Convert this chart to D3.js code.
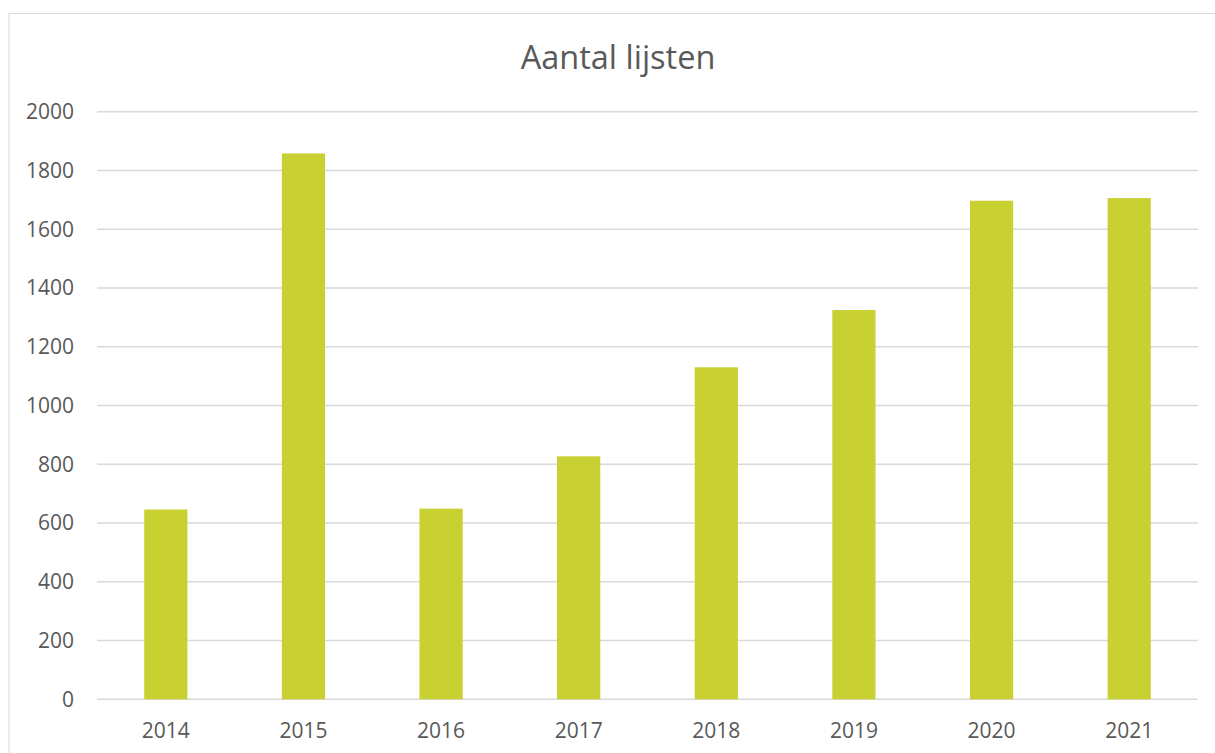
<!DOCTYPE html>
<html>
<head>
<meta charset="utf-8">
<script src="https://cdn.jsdelivr.net/npm/d3@7"></script>
<style>
  body { margin: 0; background: #fff; }
  svg { display: block; }
  text { font-family: "Open Sans", sans-serif; fill: #595959; }
</style>
</head>
<body>
<script>
// chart data
var years = ["2014", "2015", "2016", "2017", "2018", "2019", "2020", "2021"];
var lijsten = [646, 1858, 649, 827, 1130, 1325, 1697, 1706];
var yTicks = [0, 200, 400, 600, 800, 1000, 1200, 1400, 1600, 1800, 2000];
var title = "Aantal lijsten";

var W = 1215, H = 753;
var margin = { top: 111.7, right: 17, bottom: 53.7, left: 97 },
    width = W - margin.left - margin.right,
    height = H - margin.top - margin.bottom;

var svg = d3.select("body").append("svg")
    .attr("width", W)
    .attr("height", H);

// outer chart border
svg.append("rect")
    .attr("x", 9).attr("y", 13.5)
    .attr("width", W - 9 + 5).attr("height", H)
    .attr("fill", "none")
    .attr("stroke", "#d9d9d9")
    .attr("stroke-width", 1);

svg.append("text")
    .attr("x", 618)
    .attr("y", 69)
    .attr("text-anchor", "middle")
    .style("font-size", "32.5px")
    .text(title);

var g = svg.append("g")
    .attr("transform", "translate(" + margin.left + "," + margin.top + ")");

var x = d3.scaleBand().domain(years).range([0, width]).paddingInner(0.686).paddingOuter(0.343);
var y = d3.scaleLinear().domain([0, 2000]).range([height, 0]);

// gridlines
g.selectAll(".grid")
    .data(yTicks)
    .enter().append("line")
    .attr("x1", 0).attr("x2", width)
    .attr("y1", function (d) { return y(d); })
    .attr("y2", function (d) { return y(d); })
    .attr("stroke", "#d9d9d9")
    .attr("stroke-width", 1.5);

// y labels
g.selectAll(".ylab")
    .data(yTicks)
    .enter().append("text")
    .attr("x", -23)
    .attr("y", function (d) { return y(d); })
    .attr("dy", "0.35em")
    .attr("text-anchor", "end")
    .style("font-size", "21px")
    .text(function (d) { return d; });

// bars
g.selectAll(".bar")
    .data(lijsten)
    .enter().append("rect")
    .attr("x", function (d, i) { return x(years[i]); })
    .attr("width", x.bandwidth())
    .attr("y", function (d) { return y(d); })
    .attr("height", function (d) { return height - y(d); })
    .attr("fill", "#c9d132");

// x labels
g.selectAll(".xlab")
    .data(years)
    .enter().append("text")
    .attr("x", function (d) { return x(d) + x.bandwidth() / 2; })
    .attr("y", height + 31)
    .attr("dy", "0.35em")
    .attr("text-anchor", "middle")
    .style("font-size", "21px")
    .text(function (d) { return d; });
</script>
</body>
</html>
